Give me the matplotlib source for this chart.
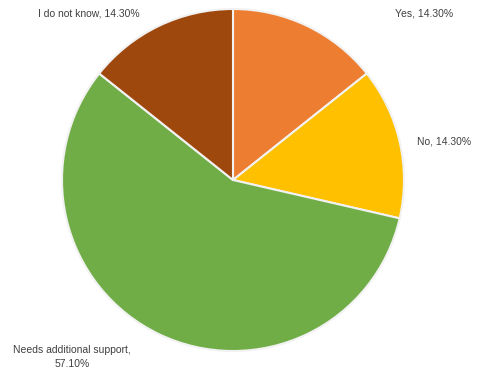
import matplotlib
matplotlib.use("Agg")
import matplotlib.pyplot as plt

labels = ["Yes", "No", "Needs additional support", "I do not know"]
shares = [14.3, 14.3, 57.1, 14.3]
colors = ["#ED7D31", "#FFC000", "#70AD47", "#9E480E"]

W, H = 479, 373
fig = plt.figure(figsize=(W / 100, H / 100), dpi=100)
ax = fig.add_axes([0, 0, 1, 1])

cx, cy, r = 233, H - 180, 171
ax.pie(shares, colors=colors, startangle=90, counterclock=False,
       center=(cx, cy), radius=r,
       wedgeprops=dict(edgecolor="#f2f2f2", linewidth=1.5))
ax.set_xlim(0, W)
ax.set_ylim(0, H)
ax.set_aspect("equal")
ax.axis("off")

txt = dict(fontsize=7.5, color="#404040", family="Liberation Sans")
# label positions (pixel coords from top-left)
ax.text(424, H - 13, f"{labels[0]}, {shares[0]:.2f}%", ha="center", va="center", **txt)
ax.text(444, H - 141, f"{labels[1]}, {shares[1]:.2f}%", ha="center", va="center", **txt)
ax.text(72, H - 357, f"{labels[2]},\n{shares[2]:.2f}%", ha="center", va="center",
        linespacing=1.5, **txt)
ax.text(89, H - 13, f"{labels[3]}, {shares[3]:.2f}%", ha="center", va="center", **txt)

fig.savefig("out.png", dpi=100)
